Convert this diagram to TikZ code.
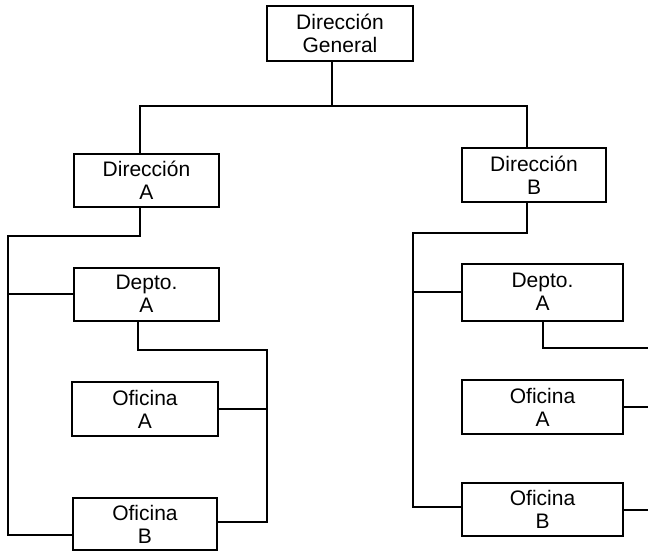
\documentclass[tikz,border=0pt]{standalone}
\usepackage{fontspec}
\setmainfont{Liberation Sans}
\begin{document}
\begin{tikzpicture}[x=1pt,y=-1pt,
  unit/.style={draw=black, line width=2pt, fill=white, inner sep=0pt,
    align=center, font=\fontsize{21}{23}\selectfont},
  conn/.style={draw=black, line width=2pt}]
\useasboundingbox (0,0) rectangle (648,552);

% boxes
\node[unit, minimum width=146pt, minimum height=55pt] (dg)   at (340,33.5)  {Dirección\\General};
\node[unit, minimum width=145pt, minimum height=53pt] (da)   at (146.5,180.5) {Dirección\\A};
\node[unit, minimum width=144pt, minimum height=54pt] (db)   at (534,175)   {Dirección\\B};
\node[unit, minimum width=145pt, minimum height=53pt] (depl) at (146.5,294) {Depto.\\A};
\node[unit, minimum width=146pt, minimum height=54pt] (ofal) at (145,409)   {Oficina\\A};
\node[unit, minimum width=144pt, minimum height=52pt] (ofbl) at (145,524)   {Oficina\\B};
\node[unit, minimum width=161pt, minimum height=57pt] (depr) at (542.5,292) {Depto.\\A};
\node[unit, minimum width=161pt, minimum height=54pt] (ofar) at (542.5,407) {Oficina\\A};
\node[unit, minimum width=161pt, minimum height=53pt] (ofbr) at (542.5,509.5) {Oficina\\B};

% bend points
\coordinate (busM) at (332,106);
\coordinate (busL) at (140,106);
\coordinate (busR) at (527,106);
\coordinate (la)   at (140,236);
\coordinate (lrail) at (8,236);
\coordinate (lbot) at (8,535);
\coordinate (dl1)  at (138,350);
\coordinate (dl2)  at (267,350);
\coordinate (dl3)  at (267,522);
\coordinate (rb1)  at (527,233);
\coordinate (rrail) at (413,233);
\coordinate (rbot) at (413,507);
\coordinate (dr1)  at (543,348);
\coordinate (edge) at (648,348);

% top level
\draw[conn] (dg.south -| busM) -- (busM);
\draw[conn] (da.north -| busL) -- (busL) -- (busR) -- (db.north -| busR);

% branch A
\draw[conn] (da.south -| la) -- (la) -- (lrail) -- (lbot) -- (lbot -| ofbl.west);
\draw[conn] (lrail |- depl.west) -- (depl.west);
\draw[conn] (depl.south -| dl1) -- (dl1) -- (dl2) -- (dl3) -- (dl3 -| ofbl.east);
\draw[conn] (ofal.east) -- (ofal.east -| dl2);

% branch B
\draw[conn] (db.south -| rb1) -- (rb1) -- (rrail) -- (rbot) -- (rbot -| ofbr.west);
\draw[conn] (rrail |- depr.west) -- (depr.west);
\draw[conn] (depr.south -| dr1) -- (dr1) -- (dr1 -| edge);
\draw[conn] (ofar.east) -- (ofar.east -| edge);
\draw[conn] (ofbr.east) -- (ofbr.east -| edge);
\end{tikzpicture}
\end{document}
